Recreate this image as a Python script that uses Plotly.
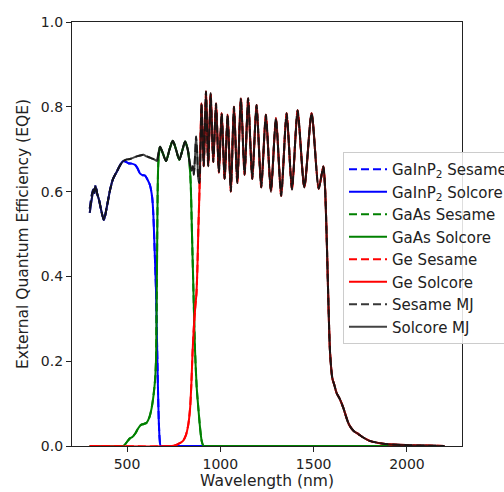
import plotly.graph_objects as go

# ---------------- data ----------------
# GaInP2 top cell
GAINP_WL = [300, 310, 318, 324, 332, 340, 350, 362, 376, 390, 409, 425, 445, 465, 480,
            495, 507, 525, 543, 556, 569, 582, 596, 610, 623, 635, 641, 648, 655, 660,
            665, 670, 675, 680, 700, 900, 1200, 2200]
GAINP_SOLCORE = [0.55, 0.58, 0.60, 0.605, 0.61, 0.595, 0.58, 0.555, 0.533, 0.56, 0.604, 0.63, 0.647, 0.664, 0.672,
                 0.670, 0.667, 0.666, 0.663, 0.655, 0.643, 0.639, 0.638, 0.628, 0.615, 0.585, 0.545, 0.46, 0.37, 0.26,
                 0.15, 0.06, 0.015, 0.0, 0.0, 0.0, 0.0, 0.0]
GAINP_SESAME = [0.56, 0.59, 0.605, 0.595, 0.615, 0.595, 0.58, 0.555, 0.533, 0.56, 0.604, 0.63, 0.647, 0.664, 0.672,
                0.670, 0.667, 0.666, 0.663, 0.655, 0.643, 0.639, 0.638, 0.628, 0.615, 0.585, 0.545, 0.46, 0.37, 0.26,
                0.15, 0.06, 0.015, 0.0, 0.0, 0.0, 0.0, 0.0]

# GaAs middle cell
GAAS_WL = [300, 470, 482, 490, 500, 515, 530, 545, 560, 575, 590, 605, 620, 632, 642,
           650, 655, 658, 661, 664, 668, 677, 692, 709, 728, 745, 762, 780, 795, 811,
           825, 834, 841, 848, 855, 864, 873, 880, 892, 900, 910, 930, 1500, 2200]
GAAS_SOLCORE = [0.0, 0.0, 0.001, 0.004, 0.01, 0.018, 0.022, 0.03, 0.042, 0.05, 0.052, 0.055, 0.068, 0.09, 0.12,
                0.155, 0.2, 0.3, 0.45, 0.6, 0.67, 0.706, 0.69, 0.672, 0.70, 0.72, 0.70, 0.675, 0.695, 0.718,
                0.70, 0.67, 0.62, 0.50, 0.38, 0.23, 0.14, 0.10, 0.04, 0.012, 0.0, 0.0, 0.0, 0.0]
GAAS_SESAME = GAAS_SOLCORE

# Ge bottom cell
GE_WL = [300, 740, 760, 780, 800, 815, 828, 838, 845, 851, 858, 866, 872, 877, 882,
         888, 899, 911, 923, 935, 948, 962, 977, 992, 1007, 1023, 1039, 1056, 1073, 1091,
         1110, 1130, 1149, 1171, 1194, 1219, 1244, 1271, 1298, 1326, 1355, 1384, 1414, 1450, 1489,
         1527, 1552, 1561, 1570, 1579, 1588, 1600, 1610, 1623, 1641, 1659, 1677, 1690, 1713, 1740,
         1766, 1800, 1838, 1900, 2000, 2100, 2200]
GE_SOLCORE = [0.0, 0.0, 0.002, 0.006, 0.012, 0.025, 0.05, 0.09, 0.15, 0.22, 0.28, 0.33, 0.36, 0.42, 0.51,
              0.60, 0.808, 0.66, 0.836, 0.66, 0.832, 0.67, 0.808, 0.645, 0.785, 0.63, 0.781, 0.60, 0.80, 0.62,
              0.82, 0.64, 0.82, 0.63, 0.804, 0.61, 0.781, 0.60, 0.773, 0.59, 0.785, 0.605, 0.792, 0.61, 0.785,
              0.607, 0.659, 0.61, 0.49, 0.34, 0.22, 0.16, 0.145, 0.125, 0.11, 0.09, 0.065, 0.05, 0.036, 0.028,
              0.02, 0.012, 0.008, 0.004, 0.002, 0.001, 0.0]
GE_SESAME = GE_SOLCORE

# Multi-junction (whole cell)
MJ_WL = [300, 310, 318, 324, 332, 340, 350, 362, 376, 390, 409, 425, 445, 465, 480,
         500, 516, 535, 552, 570, 587, 605, 623, 640, 652, 660, 668, 677, 692, 709,
         728, 745, 762, 780, 795, 811, 825, 837, 845, 852, 858, 864, 870, 876, 882,
         888, 899, 911, 923, 935, 948, 962, 977, 992, 1007, 1023, 1039, 1056, 1073, 1091,
         1110, 1130, 1149, 1171, 1194, 1219, 1244, 1271, 1298, 1326, 1355, 1384, 1414, 1450, 1489,
         1527, 1552, 1561, 1570, 1579, 1588, 1600, 1610, 1623, 1641, 1659, 1677, 1690, 1713, 1740,
         1766, 1800, 1838, 1900, 2000, 2100, 2200]
MJ_SOLCORE = [0.55, 0.58, 0.60, 0.605, 0.61, 0.595, 0.58, 0.555, 0.533, 0.56, 0.604, 0.63, 0.647, 0.664, 0.672,
              0.676, 0.677, 0.68, 0.683, 0.685, 0.687, 0.683, 0.68, 0.677, 0.674, 0.672, 0.69, 0.706, 0.69, 0.672,
              0.70, 0.72, 0.70, 0.675, 0.695, 0.718, 0.70, 0.665, 0.65, 0.66, 0.64, 0.68, 0.73, 0.69, 0.63,
              0.62, 0.808, 0.66, 0.836, 0.66, 0.832, 0.67, 0.808, 0.645, 0.785, 0.63, 0.781, 0.60, 0.80, 0.62,
              0.82, 0.64, 0.82, 0.63, 0.804, 0.61, 0.781, 0.60, 0.773, 0.59, 0.785, 0.605, 0.792, 0.61, 0.785,
              0.607, 0.659, 0.61, 0.49, 0.34, 0.22, 0.16, 0.145, 0.125, 0.11, 0.09, 0.065, 0.05, 0.036, 0.028,
              0.02, 0.012, 0.008, 0.004, 0.002, 0.001, 0.0]
MJ_SESAME = [0.56, 0.59, 0.605, 0.595, 0.615] + MJ_SOLCORE[5:]

X_TICKS = [500, 1000, 1500, 2000]
Y_TICKS = [0.0, 0.2, 0.4, 0.6, 0.8, 1.0]

# ---------------- figure ----------------
FONT = "DejaVu Sans"
BLUE, GREEN, RED = "#0000ff", "#008000", "#ff0000"
MJ_DASHED, MJ_SOLID = "rgba(20,20,20,0.85)", "rgba(20,20,20,0.8)"
DASH = "8px,4px"

series = [
    ("GaInP<sub>2</sub> Sesame", GAINP_WL, GAINP_SESAME, BLUE, DASH, 2),
    ("GaInP<sub>2</sub> Solcore", GAINP_WL, GAINP_SOLCORE, BLUE, "solid", 2),
    ("GaAs Sesame", GAAS_WL, GAAS_SESAME, GREEN, DASH, 2),
    ("GaAs Solcore", GAAS_WL, GAAS_SOLCORE, GREEN, "solid", 2),
    ("Ge Sesame", GE_WL, GE_SESAME, RED, DASH, 2),
    ("Ge Solcore", GE_WL, GE_SOLCORE, RED, "solid", 2),
    ("Sesame MJ", MJ_WL, MJ_SESAME, MJ_DASHED, DASH, 2),
    ("Solcore MJ", MJ_WL, MJ_SOLCORE, MJ_SOLID, "solid", 2),
]

fig = go.Figure()
for name, x, y, color, dash, w in series:
    fig.add_trace(go.Scatter(
        x=x, y=y, mode="lines", name=name,
        line=dict(color=color, width=w, dash=dash, shape="spline", smoothing=0.7),
    ))

axis_common = dict(
    showline=True, mirror=True, linecolor="#222", linewidth=1.2,
    ticks="outside", ticklen=5, tickwidth=1.2, tickcolor="#222",
    showgrid=False, zeroline=False, automargin=False,
    tickfont=dict(family=FONT, size=14, color="#222"),
)

fig.update_layout(
    width=504, height=492,
    margin=dict(l=72, r=42, t=22, b=46, autoexpand=False),
    paper_bgcolor="white", plot_bgcolor="white",
    font=dict(family=FONT, color="#222"),
    xaxis=dict(range=[205, 2295], tickvals=X_TICKS,
               title=dict(text="Wavelength (nm)", font=dict(family=FONT, size=15.5, color="#222"), standoff=3),
               **axis_common),
    yaxis=dict(range=[0, 1], tickvals=Y_TICKS, tickformat=".1f",
               title=dict(text="External Quantum Efficiency (EQE)", font=dict(family=FONT, size=15.5, color="#222"), standoff=8),
               **axis_common),
    legend=dict(
        xref="container", yref="container",
        x=343 / 504, y=1 - 152 / 492, xanchor="left", yanchor="top",
        bgcolor="rgba(255,255,255,0.85)", bordercolor="#cccccc", borderwidth=1,
        font=dict(family=FONT, size=15, color="#222"),
        tracegroupgap=0, itemwidth=38,
    ),
    showlegend=True,
)

fig.write_html("out.html", config={"displayModeBar": False},
               post_script="document.body.style.margin='0';document.body.style.overflow='hidden';")
